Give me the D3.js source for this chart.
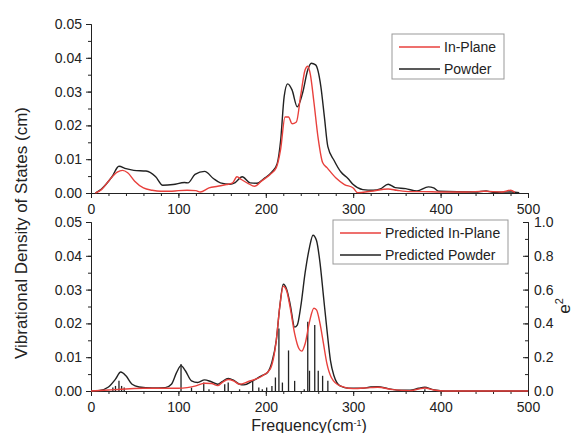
<!DOCTYPE html>
<html>
<head>
<meta charset="utf-8">
<script src="https://cdn.jsdelivr.net/npm/d3@7"></script>
<style>
  body { margin: 0; background: #fff; }
  svg { font-family: "Liberation Sans", Arial, sans-serif; }
  .axis path, .axis line { stroke: #222; }
  .axis text { fill: #222; font-size: 14px; }
</style>
</head>
<body>
<script>
// measured spectra, top panel
let expInPlane = [[5,0],[12,0.001],[20,0.0035],[30,0.0062],[36,0.0067],[42,0.006],[50,0.0035],[60,0.0015],[70,0.0008],
  [80,0.0005],[90,0.0005],[100,0.0007],[110,0.0008],[120,0.0007],[125,0.0003],[135,0.0015],[145,0.002],[155,0.0025],
  [162,0.003],[167,0.0048],[172,0.004],[180,0.0028],[187,0.002],[195,0.0035],[205,0.0055],[212,0.0075],[217,0.013],
  [222,0.0225],[226,0.0225],[230,0.0205],[235,0.021],[240,0.029],[245,0.0365],[248,0.0375],[251,0.035],[255,0.027],
  [260,0.016],[265,0.009],[270,0.0075],[280,0.0045],[290,0.0025],[300,0.0015],[305,0.0001],[320,0.0005],[340,0.0012],
  [350,0.0008],[365,0.0004],[380,0.0004],[400,0.0003],[430,0.0003],[450,0.0005],[470,0.0003],[480,0.0008],[485,0.0002]];

let expPowder = [[5,0],[12,0.0012],[24,0.0048],[32,0.0079],[40,0.0072],[49,0.0067],[63,0.0065],[74,0.0048],[82,0.0023],
  [94,0.0025],[107,0.0031],[111,0.003],[119,0.0055],[130,0.0064],[140,0.0043],[148,0.003],[159,0.0026],[165,0.0031],
  [173,0.0048],[182,0.003],[190,0.0029],[198,0.0043],[207,0.0062],[213,0.0087],[217,0.0156],[221,0.0285],[225,0.0323],
  [230,0.0305],[236,0.0255],[242,0.0295],[248,0.0364],[252,0.0384],[257,0.0379],[263,0.0315],[267,0.0226],[271,0.0137],
  [278,0.0097],[286,0.0062],[294,0.0043],[300,0.0025],[311,0.001],[323,0.0008],[331,0.0012],[340,0.0026],[348,0.0016],
  [360,0.0013],[373,0.0006],[386,0.0018],[392,0.0015],[398,0.0005],[440,0.0003],[452,0.0006],[460,0.0002],[481,0.0003],[490,0.0001]];

// predicted spectra, bottom panel
let predPowder = [[0,0],[10,0.0002],[20,0.0012],[28,0.0035],[34,0.0056],[40,0.0045],[47,0.002],[55,0.0012],[70,0.0009],
  [85,0.001],[92,0.002],[98,0.0055],[103,0.0075],[108,0.006],[115,0.003],[122,0.0025],[130,0.0033],[137,0.0028],
  [145,0.002],[150,0.0028],[157,0.0037],[163,0.0032],[170,0.002],[175,0.0018],[185,0.003],[195,0.0045],[202,0.0055],
  [207,0.0085],[212,0.015],[216,0.025],[220,0.0316],[224,0.03],[228,0.0255],[233,0.0189],[236,0.0195],[240,0.025],
  [245,0.035],[250,0.0425],[254,0.0461],[258,0.0445],[262,0.038],[266,0.028],[270,0.018],[274,0.009],[278,0.0045],
  [285,0.0015],[295,0.0008],[310,0.0008],[320,0.0012],[328,0.0013],[340,0.0007],[355,0.0002],[365,0.0002],[375,0.0008],
  [382,0.0011],[390,0.0005],[400,0.0001],[410,0],[500,0]];

let predInPlane = [[0,0],[20,0.0003],[40,0.0006],[60,0.0008],[80,0.0008],[100,0.0008],[110,0.001],[120,0.0015],[130,0.0023],
  [138,0.0022],[145,0.0016],[150,0.0025],[157,0.0034],[163,0.003],[170,0.002],[180,0.0028],[195,0.0043],[205,0.0065],
  [212,0.015],[216,0.025],[220,0.031],[224,0.0295],[228,0.0245],[233,0.017],[238,0.0125],[241,0.0118],[245,0.014],
  [250,0.0205],[255,0.0245],[258,0.024],[262,0.02],[266,0.014],[270,0.008],[275,0.004],[285,0.0015],[300,0.0007],
  [320,0.001],[328,0.0011],[345,0.0004],[365,0.0001],[375,0.0006],[382,0.0009],[392,0.0003],[405,0],[500,0]];

// mode frequencies and e^2 (right axis)
let stickFreq = [25,28,32,35,38,103,115,129,135,153,157,170,185,192,196,201,207,211,215,219,226,233,244,248,250,256,260,265,271,382];
let stickE2 = [0.02,0.03,0.06,0.03,0.02,0.16,0.02,0.05,0.01,0.04,0.05,0.01,0.06,0.02,0.01,0.02,0.03,0.08,0.37,0.05,0.24,0.06,0.01,0.41,0.12,0.39,0.12,0.09,0.06,0.01];

let xTicks = [0, 100, 200, 300, 400, 500];
let yTicks = [0, 0.01, 0.02, 0.03, 0.04, 0.05];
let e2Ticks = [0, 0.2, 0.4, 0.6, 0.8, 1.0];

let red = "#e8403c";
let black = "#222";

let svg = d3.select("body").append("svg")
  .attr("width", 575)
  .attr("height", 433);

let x = d3.scaleLinear().domain([0, 500]).range([91, 528]);
let yTop = d3.scaleLinear().domain([0, 0.05]).range([193, 24]);
let yBot = d3.scaleLinear().domain([0, 0.05]).range([391, 222]);
let yE2 = d3.scaleLinear().domain([0, 1]).range([391, 222]);

function minorTicks(lo, hi, step) {
  return d3.range(lo, hi + step / 2, step);
}

function drawXAxis(yScale) {
  let y0 = yScale(0);
  svg.append("g").attr("class", "axis")
    .attr("transform", "translate(0," + y0 + ")")
    .call(d3.axisBottom(x).tickValues(minorTicks(0, 500, 20)).tickSize(3).tickFormat(""));
  let g = svg.append("g").attr("class", "axis")
    .attr("transform", "translate(0," + y0 + ")")
    .call(d3.axisBottom(x).tickValues(xTicks).tickSize(5).tickSizeOuter(0).tickFormat(d3.format("d")));
  g.selectAll("text").attr("dy", "0.95em");
}

function drawYAxis(yScale) {
  svg.append("g").attr("class", "axis")
    .attr("transform", "translate(91,0)")
    .call(d3.axisLeft(yScale).tickValues(minorTicks(0, 0.05, 0.005)).tickSize(3).tickFormat(""));
  svg.append("g").attr("class", "axis")
    .attr("transform", "translate(91,0)")
    .call(d3.axisLeft(yScale).tickValues(yTicks).tickSize(5).tickSizeOuter(0).tickFormat(d3.format(".2f")))
    .selectAll("text").attr("x", -9);
}

drawXAxis(yTop);
drawYAxis(yTop);
drawXAxis(yBot);
drawYAxis(yBot);

// right e^2 axis
svg.append("g").attr("class", "axis")
  .attr("transform", "translate(528,0)")
  .call(d3.axisLeft(yE2).tickValues(minorTicks(0, 1, 0.1)).tickSize(3).tickFormat(""));
svg.append("g").attr("class", "axis")
  .attr("transform", "translate(528,0)")
  .call(d3.axisRight(yE2).tickValues(e2Ticks).tickSize(0).tickSizeOuter(0).tickFormat(d3.format(".1f")))
  .selectAll("text").attr("x", 6);
svg.append("g").attr("class", "axis")
  .attr("transform", "translate(528,0)")
  .call(d3.axisLeft(yE2).tickValues(e2Ticks).tickSize(5).tickSizeOuter(0).tickFormat(""));

let lineTop = d3.line().x(d => x(d[0])).y(d => yTop(d[1])).curve(d3.curveMonotoneX);
let lineBot = d3.line().x(d => x(d[0])).y(d => yBot(d[1])).curve(d3.curveMonotoneX);

svg.append("path").datum(expPowder).attr("d", lineTop)
  .attr("fill", "none").attr("stroke", black).attr("stroke-width", 1.4);
svg.append("path").datum(expInPlane).attr("d", lineTop)
  .attr("fill", "none").attr("stroke", red).attr("stroke-width", 1.4);

svg.selectAll(".stick").data(stickFreq).enter().append("line")
  .attr("class", "stick")
  .attr("x1", d => x(d)).attr("x2", d => x(d))
  .attr("y1", yE2(0))
  .attr("y2", (d, i) => yE2(stickE2[i]))
  .attr("stroke", black).attr("stroke-width", 1.3);

svg.append("path").datum(predPowder).attr("d", lineBot)
  .attr("fill", "none").attr("stroke", black).attr("stroke-width", 1.4);
svg.append("path").datum(predInPlane).attr("d", lineBot)
  .attr("fill", "none").attr("stroke", red).attr("stroke-width", 1.4);

// legends
function legend(x0, y0, w, h, items) {
  let g = svg.append("g");
  g.append("rect").attr("x", x0).attr("y", y0).attr("width", w).attr("height", h)
    .attr("fill", "#fff").attr("stroke", "#999").attr("stroke-width", 1);
  items.forEach(function (it, i) {
    let cy = y0 + 13 + i * 22;
    g.append("line").attr("x1", x0 + 7).attr("x2", x0 + 48).attr("y1", cy).attr("y2", cy)
      .attr("stroke", it.color).attr("stroke-width", 1.4);
    g.append("text").attr("x", x0 + 52).attr("y", cy + 5).attr("font-size", 14).attr("fill", "#222")
      .text(it.name);
  });
}

legend(392, 34, 112, 45, [{ name: "In-Plane", color: red }, { name: "Powder", color: black }]);
legend(333, 220, 175, 44, [{ name: "Predicted In-Plane", color: red }, { name: "Predicted Powder", color: black }]);

// axis titles
svg.append("text")
  .attr("transform", "translate(27,233) rotate(-90)")
  .attr("text-anchor", "middle").attr("font-size", 17).attr("fill", "#222")
  .text("Vibrational Density of States (cm)");

let xt = svg.append("text").attr("x", 309).attr("y", 431)
  .attr("text-anchor", "middle").attr("font-size", 16).attr("fill", "#222");
xt.append("tspan").text("Frequency(cm");
xt.append("tspan").attr("dy", -5).attr("font-size", 9).text("-1");
xt.append("tspan").attr("dy", 5).text(")");

let et = svg.append("text").attr("transform", "translate(570,306) rotate(-90)")
  .attr("text-anchor", "middle").attr("font-size", 17).attr("fill", "#222");
et.append("tspan").text("e");
et.append("tspan").attr("dy", -7).attr("font-size", 11).text("2");
</script>
</body>
</html>
